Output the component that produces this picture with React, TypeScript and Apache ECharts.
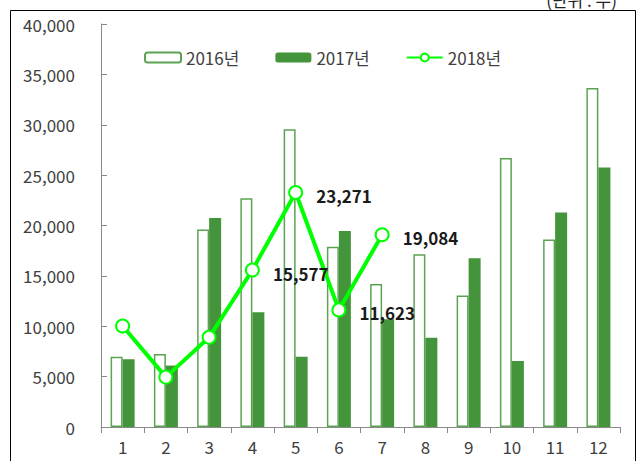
import React, { useEffect, useRef } from "react";
import * as echarts from "echarts";

const months = ["1", "2", "3", "4", "5", "6", "7", "8", "9", "10", "11", "12"];
const values2016 = [6980, 7250, 19600, 22700, 29550, 17900, 14200, 17150, 13050, 26700, 18600, 33650];
const values2017 = [6720, 6100, 20750, 11400, 6980, 19450, 10700, 8850, 16750, 6550, 21300, 25750];
const values2018 = [10020, 4950, 8900, 15577, 23271, 11623, 19084, null, null, null, null, null];
const labeledIdx2018 = [3, 4, 5, 6];
const seriesNames = ["2016년", "2017년", "2018년"];
const yTicks = { min: 0, max: 40000, interval: 5000 };
const unitText = "(단위 : 두)";

const FONT = '"Noto Sans CJK KR", "Noto Sans", sans-serif';

export default function App() {
  const ref = useRef<HTMLDivElement>(null);
  useEffect(() => {
    if (!ref.current) return;
    const chart = echarts.init(ref.current, undefined, { renderer: "svg" });
    const line2018 = values2018.map((v, i) =>
      labeledIdx2018.includes(i)
        ? { value: v, label: { show: true } }
        : { value: v }
    );
    chart.setOption({
      animation: false,
      backgroundColor: "#fff",
      textStyle: { fontFamily: FONT },
      grid: { left: 101, right: 20, top: 24, bottom: 34, containLabel: false },
      legend: {
        left: 139,
        top: 44,
        itemWidth: 36,
        itemHeight: 10,
        itemGap: 36,
        textStyle: { fontSize: 17, color: "#404040", fontFamily: FONT },
        data: seriesNames,
      },
      xAxis: {
        type: "category",
        data: months,
        axisLine: { lineStyle: { color: "#8a8a8a", width: 1 } },
        axisTick: { show: true, length: 6, lineStyle: { color: "#8a8a8a" } },
        axisLabel: { fontSize: 17, color: "#404040", margin: 11, fontFamily: FONT },
      },
      yAxis: {
        type: "value",
        min: yTicks.min,
        max: yTicks.max,
        interval: yTicks.interval,
        splitLine: { show: false },
        axisLine: { show: true, lineStyle: { color: "#8a8a8a", width: 1 } },
        axisTick: { show: true, inside: true, length: 6, lineStyle: { color: "#8a8a8a" } },
        axisLabel: {
          fontSize: 17,
          color: "#404040",
          margin: 26,
          fontFamily: FONT,
          formatter: (v: number) => v.toLocaleString("en-US"),
        },
      },
      series: [
        {
          name: seriesNames[0],
          type: "bar",
          data: values2016,
          barWidth: 12,
          barGap: "0%",
          itemStyle: { color: "#ffffff", borderColor: "#5BA352", borderWidth: 1.5 },
        },
        {
          name: seriesNames[1],
          type: "bar",
          data: values2017,
          barWidth: 12,
          barGap: "0%",
          itemStyle: { color: "#43943A" },
        },
        {
          name: seriesNames[2],
          type: "line",
          data: line2018,
          symbol: "emptyCircle",
          symbolSize: 13,
          connectNulls: false,
          lineStyle: { color: "#00FF00", width: 4 },
          itemStyle: { color: "#00FF00", borderWidth: 2 },
          label: {
            show: false,
            position: "right",
            distance: 13,
            offset: [0, 3],
            fontSize: 17,
            fontWeight: "bold",
            color: "#1a1a1a",
            fontFamily: FONT,
            formatter: (p: any) => Number(p.value).toLocaleString("en-US"),
          },
          z: 5,
        },
      ],
      graphic: [
        {
          type: "rect",
          shape: { x: 10.5, y: 10.5, width: 625, height: 500 },
          style: { fill: "none", stroke: "#000", lineWidth: 1 },
          silent: true,
        },
        {
          type: "text",
          x: 617,
          y: 8,
          style: {
            text: unitText,
            font: `17px ${FONT}`,
            fill: "#222",
            textAlign: "right",
            textVerticalAlign: "bottom",
          },
          silent: true,
        },
      ],
    });
    return () => chart.dispose();
  }, []);
  return (
    <div
      ref={ref}
      style={{ position: "fixed", left: 0, top: 0, width: 640, height: 461 }}
    />
  );
}
